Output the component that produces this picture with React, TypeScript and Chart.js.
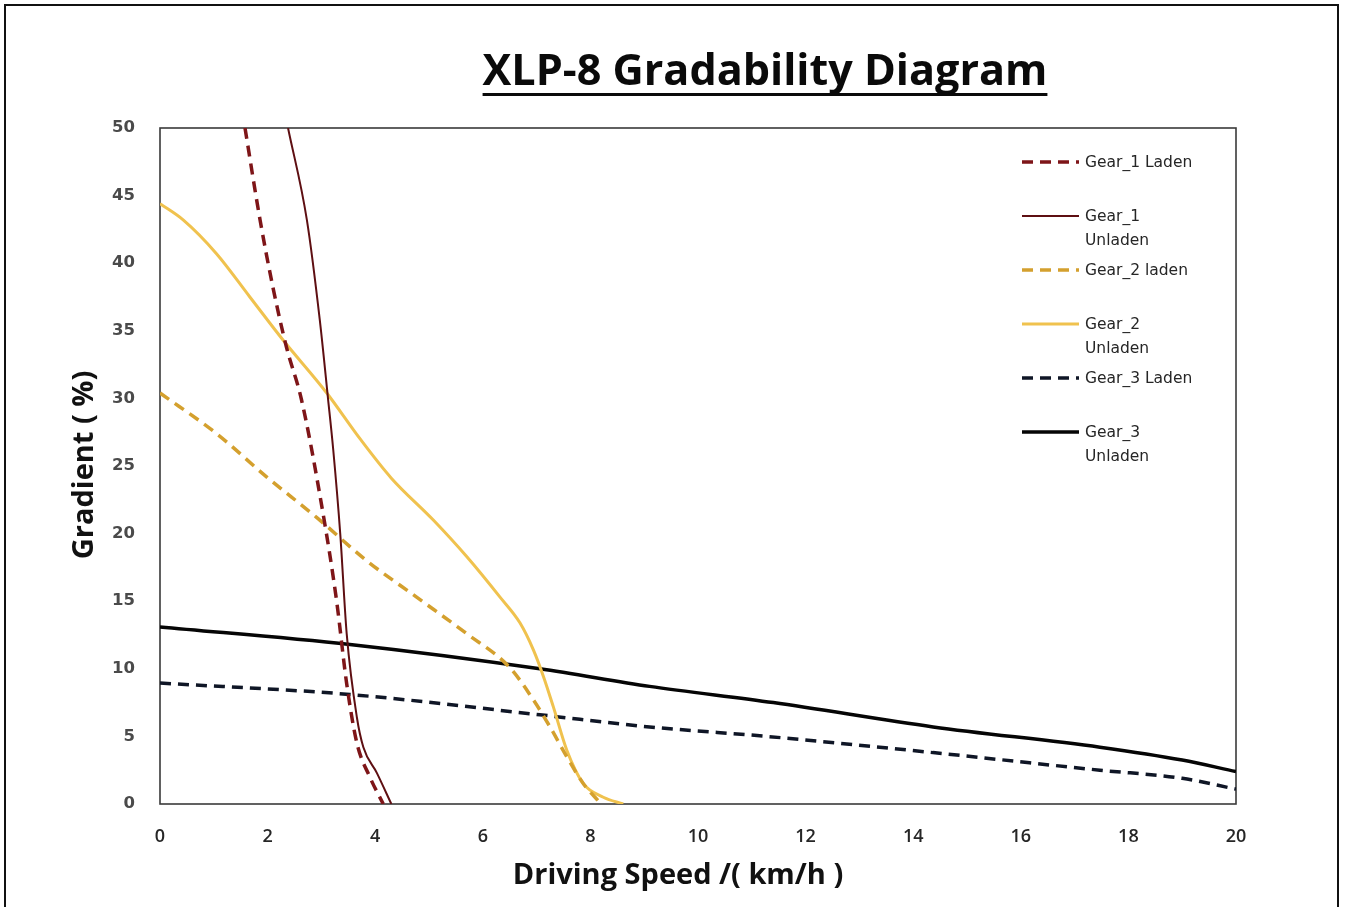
import React, { useEffect, useRef } from "react";
import { Chart, registerables } from "chart.js";

Chart.register(...registerables);

// ---- Data ----
const chartTitle = "XLP-8 Gradability Diagram";
const xAxisTitle = "Driving Speed /( km/h )";
const yAxisTitle = "Gradient ( %)";

const xTickValues = [0, 2, 4, 6, 8, 10, 12, 14, 16, 18, 20];
const yTickValues = [0, 5, 10, 15, 20, 25, 30, 35, 40, 45, 50];

const seriesLabels = [
  "Gear_1 Laden",
  "Gear_1 Unladen",
  "Gear_2 laden",
  "Gear_2 Unladen",
  "Gear_3 Laden",
  "Gear_3 Unladen",
];

const gear1LadenSpeed = [1.58, 1.86, 2.1, 2.35, 2.63, 3.03, 3.28, 3.47, 3.66, 3.9, 4.15];
const gear1LadenGradient = [50, 43.2, 38.2, 33.8, 29.9, 21.5, 15.1, 8.9, 4.5, 2.0, 0];

const gear1UnladenSpeed = [2.38, 2.73, 2.97, 3.12, 3.22, 3.35, 3.47, 3.66, 3.78, 4.03, 4.3];
const gear1UnladenGradient = [50, 43.2, 35.8, 30.1, 26.2, 20.0, 12.6, 6.4, 4.2, 2.3, 0];

const gear2LadenSpeed = [0, 1.05, 1.98, 2.91, 3.84, 4.77, 5.7, 6.5, 6.94, 7.25, 7.56, 7.87, 8.2];
const gear2LadenGradient = [30.4, 27.4, 24.2, 21.2, 18.0, 15.3, 12.6, 10.1, 7.7, 5.7, 3.5, 1.5, 0];

const gear2UnladenSpeed = [0, 0.43, 1.05, 1.67, 2.29, 3.1, 3.72, 4.3, 5.08, 5.7, 6.32, 6.69, 6.94, 7.13, 7.31, 7.56, 7.87, 8.24, 8.61];
const gear2UnladenGradient = [44.4, 43.2, 40.7, 37.5, 34.3, 30.4, 27.0, 24.1, 21.0, 18.3, 15.3, 13.4, 11.4, 9.4, 7.2, 4.0, 1.5, 0.5, 0];

const gear3LadenSpeed = [0, 3.53, 7.06, 9.1, 11.28, 14.37, 17.47, 19.0, 20];
const gear3LadenGradient = [8.95, 8.1, 6.6, 5.7, 5.0, 3.8, 2.5, 1.9, 1.1];

const gear3UnladenSpeed = [0, 3.53, 7.06, 9.1, 11.4, 14.37, 17.47, 19.0, 20];
const gear3UnladenGradient = [13.1, 11.8, 10.0, 8.7, 7.5, 5.7, 4.2, 3.25, 2.4];

// ---- Styles ----
const seriesColors = ["#7e1518", "#5e0f12", "#d4a02e", "#f0c24e", "#0f1626", "#050505"];
const seriesWidths = [3.5, 2, 3.5, 3, 3.5, 3.5];
const seriesDashes: number[][] = [[11, 7], [], [11, 7], [], [11, 7], []];

function toPoints(xs: number[], ys: number[]) {
  return xs.map((x, i) => ({ x, y: ys[i] }));
}

const seriesPoints = [
  toPoints(gear1LadenSpeed, gear1LadenGradient),
  toPoints(gear1UnladenSpeed, gear1UnladenGradient),
  toPoints(gear2LadenSpeed, gear2LadenGradient),
  toPoints(gear2UnladenSpeed, gear2UnladenGradient),
  toPoints(gear3LadenSpeed, gear3LadenGradient),
  toPoints(gear3UnladenSpeed, gear3UnladenGradient),
];

const decorPlugin = {
  id: "decor",
  beforeDatasetsDraw(chart: any) {
    const { ctx, chartArea } = chart;
    ctx.save();
    ctx.strokeStyle = "#3a3a3a";
    ctx.lineWidth = 1.6;
    ctx.strokeRect(chartArea.left, chartArea.top, chartArea.right - chartArea.left, chartArea.bottom - chartArea.top);
    ctx.restore();
  },
  afterDraw(chart: any) {
    const { ctx } = chart;
    ctx.save();
    // Title
    const targetW = 565;
    ctx.font = "bold 40px 'Open Sans'";
    const w0 = ctx.measureText(chartTitle).width;
    const size = (40 * targetW) / w0;
    ctx.font = `bold ${size}px 'Open Sans'`;
    ctx.fillStyle = "#0a0a0a";
    ctx.textAlign = "center";
    ctx.textBaseline = "alphabetic";
    const cx = 765;
    ctx.fillText(chartTitle, cx, 85);
    const tw = ctx.measureText(chartTitle).width;
    ctx.fillRect(cx - tw / 2, 93, tw, 3);

    // Axis titles
    ctx.font = "bold 29px 'Open Sans'";
    ctx.textBaseline = "middle";
    ctx.textAlign = "center";
    ctx.fillStyle = "#111";
    ctx.fillText(xAxisTitle, 678, 876);
    ctx.save();
    ctx.translate(85, 465);
    ctx.rotate(-Math.PI / 2);
    ctx.fillText(yAxisTitle, 0, 0);
    ctx.restore();

    // Legend
    const legendX = 1022;
    const sampleW = 57;
    const textX = 1085;
    const firstY = 162;
    const step = 54;
    const lineH = 24;
    const maxW = 116;
    ctx.font = "15.5px 'DejaVu Sans'";
    ctx.textAlign = "left";
    ctx.textBaseline = "middle";
    chart.data.datasets.forEach((ds: any, i: number) => {
      const y = firstY + i * step;
      ctx.save();
      ctx.strokeStyle = ds.borderColor;
      ctx.lineWidth = ds.borderWidth;
      ctx.setLineDash(ds.borderDash || []);
      ctx.beginPath();
      ctx.moveTo(legendX, y);
      ctx.lineTo(legendX + sampleW, y);
      ctx.stroke();
      ctx.restore();
      ctx.fillStyle = "#262626";
      const label: string = ds.label;
      const lines: string[] = [];
      if (ctx.measureText(label).width > maxW) {
        const words = label.split(" ");
        let cur = "";
        words.forEach((wd) => {
          const t = cur ? cur + " " + wd : wd;
          if (cur && ctx.measureText(t).width > maxW) {
            lines.push(cur);
            cur = wd;
          } else cur = t;
        });
        if (cur) lines.push(cur);
      } else lines.push(label);
      lines.forEach((ln, k) => ctx.fillText(ln, textX, y + 1 + k * lineH));
    });
    ctx.restore();
  },
};

export default function App() {
  const canvasRef = useRef<HTMLCanvasElement | null>(null);

  useEffect(() => {
    if (!canvasRef.current) return;
    const chart = new Chart(canvasRef.current, {
      type: "scatter",
      data: {
        datasets: seriesPoints.map((pts, i) => ({
          label: seriesLabels[i],
          data: pts,
          showLine: true,
          borderColor: seriesColors[i],
          backgroundColor: seriesColors[i],
          borderWidth: seriesWidths[i],
          borderDash: seriesDashes[i],
          pointRadius: 0,
          pointHoverRadius: 0,
          cubicInterpolationMode: "monotone" as const,
          fill: false,
        })),
      },
      options: {
        animation: false,
        responsive: false,
        devicePixelRatio: 1,
        layout: { padding: { left: 0, top: 128, right: 110, bottom: 0 } },
        plugins: {
          legend: { display: false },
          title: { display: false },
          tooltip: { enabled: false },
        },
        scales: {
          x: {
            type: "linear",
            min: 0,
            max: 20,
            afterBuildTicks: (scale: any) => {
              scale.ticks = xTickValues.map((v) => ({ value: v }));
            },
            afterFit: (scale: any) => {
              scale.height = 103;
            },
            grid: { display: false, drawTicks: false },
            border: { display: false },
            ticks: {
              padding: 22,
              color: "#262626",
              font: { family: "'Open Sans'", size: 18, weight: 600 },
              maxRotation: 0,
            },
          },
          y: {
            type: "linear",
            min: 0,
            max: 50,
            afterBuildTicks: (scale: any) => {
              scale.ticks = yTickValues.map((v) => ({ value: v }));
            },
            afterFit: (scale: any) => {
              scale.width = 160;
            },
            grid: { display: false, drawTicks: false },
            border: { display: false },
            ticks: {
              padding: 25,
              color: "#4a4a4a",
              font: { family: "'DejaVu Sans'", size: 16.5, weight: "bold" },
            },
          },
        },
      },
      plugins: [decorPlugin],
    });
    return () => chart.destroy();
  }, []);

  return (
    <div style={{ position: "absolute", left: 0, top: 0, width: 1346, height: 907, background: "#fff", overflow: "hidden" }}>
      <canvas ref={canvasRef} width={1346} height={907} style={{ position: "absolute", left: 0, top: 0, width: 1346, height: 907 }} />
      <div
        style={{
          position: "absolute",
          left: 4,
          top: 4,
          width: 1335,
          height: 903,
          border: "2px solid #111",
          borderBottom: "none",
          boxSizing: "border-box",
          pointerEvents: "none",
        }}
      />
    </div>
  );
}
